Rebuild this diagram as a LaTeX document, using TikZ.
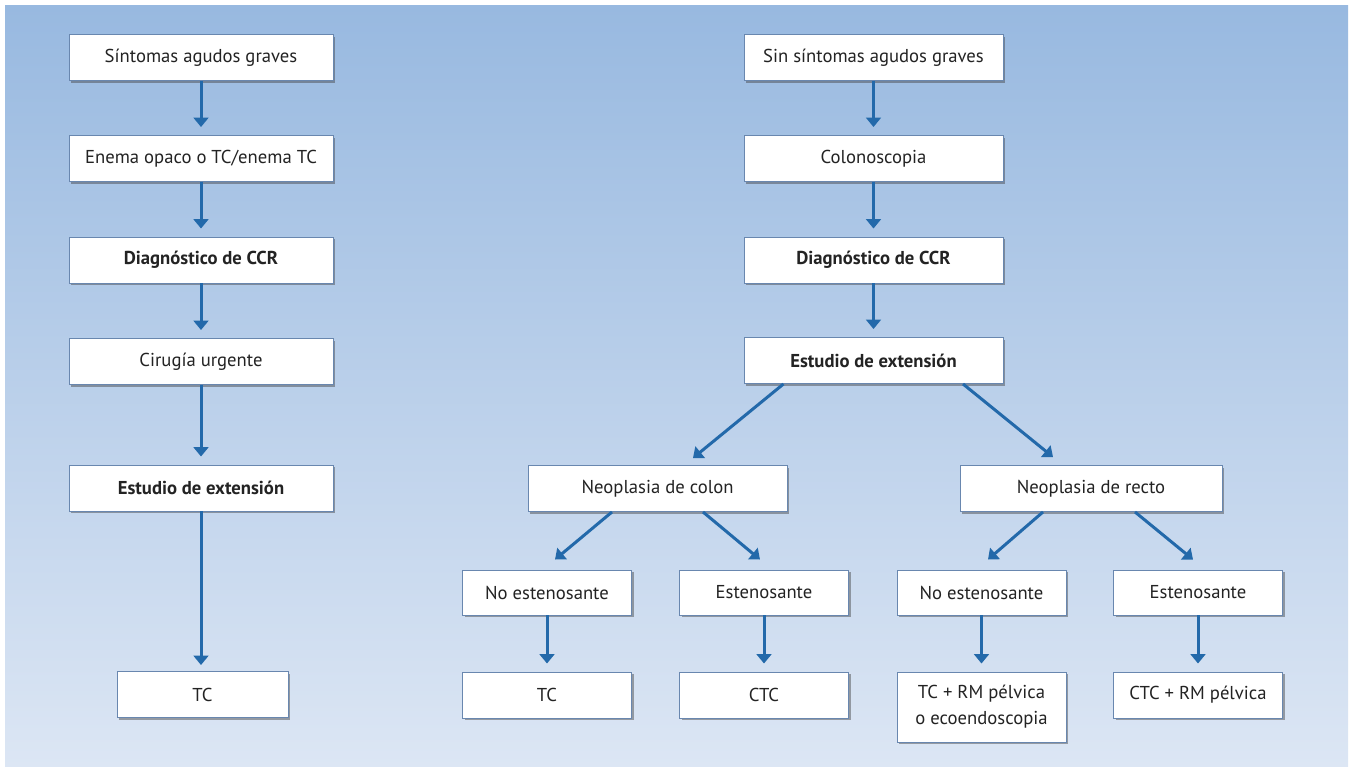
\documentclass[tikz,border=0pt]{standalone}
\usepackage{fontspec}
\setmainfont{PT Sans}
\usetikzlibrary{arrows.meta,shadows,calc}
\definecolor{bgtop}{RGB}{152,185,224}
\definecolor{bgbot}{RGB}{220,230,244}
\definecolor{arrowblue}{RGB}{35,105,170}
\definecolor{boxborder}{RGB}{105,135,175}
\definecolor{txt}{RGB}{35,35,35}
\begin{document}
\begin{tikzpicture}[x=0.75pt,y=-0.75pt,
  box/.style={draw=boxborder, line width=0.7pt, fill=white, minimum height=34.5pt,
    text=txt, font=\fontsize{14}{19.5}\selectfont, inner sep=2pt, align=center,
    drop shadow={shadow xshift=1.5pt, shadow yshift=-1.8pt, opacity=0.45, fill=black!75}},
  bbox/.style={box, font=\fontsize{14}{19.5}\selectfont\bfseries},
  arr/.style={draw=arrowblue, line width=2.25pt, -{Triangle[width=11pt,length=7pt]}}]
\useasboundingbox (0,0) rectangle (1354,767);
\fill[top color=bgtop, bottom color=bgbot] (5,6) rectangle (1348,767);

% left column
\node[box, minimum width=198pt] (l1) at (201,57.5) {Síntomas agudos graves};
\node[box, minimum width=198pt] (l2) at (201,158.5) {Enema opaco o TC/enema TC};
\node[bbox, minimum width=198pt] (l3) at (201,260) {Diagnóstico de CCR};
\node[box, minimum width=198pt] (l4) at (201,361.5) {Cirugía urgente};
\node[bbox, minimum width=198pt] (l5) at (201,488) {Estudio de extensión};
\node[box, minimum width=128.25pt] (l6) at (202.5,694.5) {TC};

% right column
\node[box, minimum width=194.25pt] (r1) at (873.5,57.5) {Sin síntomas agudos graves};
\node[box, minimum width=194.25pt] (r2) at (873.5,158.5) {Colonoscopia};
\node[bbox, minimum width=194.25pt] (r3) at (873.5,260) {Diagnóstico de CCR};
\node[bbox, minimum width=194.25pt] (r4) at (873.5,360.5) {Estudio de extensión};
\node[box, minimum width=194.25pt] (nc) at (657.5,488.5) {Neoplasia de colon};
\node[box, minimum width=196.5pt] (nr) at (1091,488.5) {Neoplasia de recto};
\node[box, minimum width=126.75pt, minimum height=33.75pt] (c1) at (547,592.5) {No estenosante};
\node[box, minimum width=126.75pt, minimum height=33.75pt] (c2) at (764,592.5) {Estenosante};
\node[box, minimum width=126.75pt, minimum height=33.75pt] (s1) at (981.5,592.5) {No estenosante};
\node[box, minimum width=126.75pt, minimum height=33.75pt] (s2) at (1198,592.5) {Estenosante};
\node[box, minimum width=126.75pt] (c3) at (547,695) {TC};
\node[box, minimum width=126.75pt] (c4) at (764,695) {CTC};
\node[box, minimum width=126.75pt, minimum height=52.5pt] (s3) at (981.5,707) {TC + RM pélvica\\o ecoendoscopia};
\node[box, minimum width=126.75pt] (s4) at (1198,695) {CTC + RM pélvica};

% vertical arrows
\draw[arr] (l1.south) -- ($(l2.north)+(0,-8)$);
\draw[arr] (l2.south) -- ($(l3.north)+(0,-8)$);
\draw[arr] (l3.south) -- ($(l4.north)+(0,-8)$);
\draw[arr] (l4.south) -- ($(l5.north)+(0,-8)$);
\draw[arr] (l5.south) -- ($(l5.south |- l6.north)+(0,-6)$);
\draw[arr] (r1.south) -- ($(r2.north)+(0,-8)$);
\draw[arr] (r2.south) -- ($(r3.north)+(0,-8)$);
\draw[arr] (r3.south) -- ($(r4.north)+(0,-8)$);
\draw[arr] (c1.south) -- ($(c3.north)+(0,-8)$);
\draw[arr] (c2.south) -- ($(c4.north)+(0,-8)$);
\draw[arr] (s1.south) -- ($(s3.north)+(0,-8)$);
\draw[arr] (s2.south) -- ($(s4.north)+(0,-8)$);

% diagonal arrows
\draw[arr] ($(r4.south)+(-90,0)$) -- ($(nc.north)+(35.5,-7)$);
\draw[arr] ($(r4.south)+(89.5,0)$) -- ($(nr.north)+(-38,-8)$);
\draw[arr] ($(nc.south)+(-45.5,0)$) -- ($(c1.north)+(8,-10)$);
\draw[arr] ($(nc.south)+(45.5,0)$) -- ($(c2.north)+(-4,-10)$);
\draw[arr] ($(nr.south)+(-48,0)$) -- ($(s1.north)+(6.5,-10)$);
\draw[arr] ($(nr.south)+(44,0)$) -- ($(s2.north)+(-5,-10)$);
\end{tikzpicture}
\end{document}
